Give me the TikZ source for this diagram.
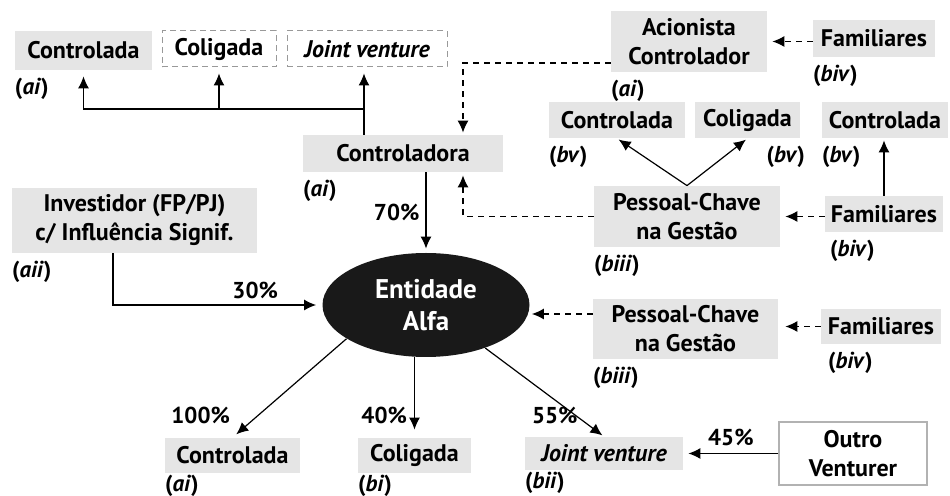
\documentclass[tikz,border=0pt]{standalone}
\usepackage{fontspec}
\setmainfont{PT Sans}
\usetikzlibrary{arrows.meta,shapes.geometric,positioning}

\begin{document}
\begin{tikzpicture}[x=0.5pt, y=-0.5pt,
		caixa/.style   = {rectangle, inner sep=0pt, align=center, minimum height=18pt, font=\fontsize{12}{14.5}\selectfont\bfseries},
		cinza/.style   = {caixa, fill=black!10},
		vazada/.style  = {caixa, draw=black!40, line width=0.5pt, dash pattern=on 3pt off 2pt},
		borda/.style   = {caixa, draw=black!30, line width=0.6pt},
		alfa/.style    = {ellipse, inner sep=0pt, align=center, fill=black!90, text=white, font=\fontsize{13.5}{16}\selectfont\bfseries},
		tag/.style     = {inner sep=0pt, font=\fontsize{11.5}{14}\selectfont\bfseries},
		pct/.style     = {inner sep=0pt, font=\fontsize{11.5}{13}\selectfont\bfseries},
		liga/.style    = {->, line width=0.6pt, shorten >=2.5pt},
		tracejada/.style = {liga, dash pattern=on 3pt off 2.5pt},
		>={Latex[length=6pt,width=5.5pt]}]
		
		\useasboundingbox (0,0) rectangle (950,496);
		
		% Entidade no centro
		\node[alfa, minimum width=103.5pt, minimum height=52pt] (alfa) at (426,305) {Entidade\\Alfa};
		
		% Caixas cinzentas
		\begin{scope}[every node/.style={cinza}]
			\node[minimum width=68.5pt, minimum height=19.5pt] (ctl1) at (83.5,50.5) {Controlada};
			\node[minimum width=100pt, minimum height=18.5pt] (ctra) at (403,153.5) {Controladora};
			\node[minimum width=78pt, minimum height=30.5pt] (acio) at (689,41.5) {Acionista\\Controlador};
			\node[minimum width=61pt, minimum height=18.5pt] (fam1) at (874,38.5) {Familiares};
			
			\node[minimum width=68pt] (ctl2) at (617,120) {Controlada};
			\node[minimum width=52.5pt] (col2) at (747.5,120) {Coligada};
			\node[minimum width=63pt] (ctl3) at (885,120) {Controlada};
			
			\node[minimum width=93pt, minimum height=30.5pt] (pcg1) at (687,216.5) {Pessoal-Chave\\na Gest\~ao};
			\node[minimum width=59pt] (fam2) at (884,214) {Familiares};
			\node[minimum width=122.5pt, minimum height=32.5pt] (inv) at (134.5,220.5) {Investidor (FP/PJ)\\c/ Influ\^encia Signif.};
			
			\node[minimum width=92.5pt, minimum height=30pt] (pcg2) at (685.5,329) {Pessoal-Chave\\na Gest\~ao};
			\node[minimum width=60pt, minimum height=17.5pt] (fam3) at (881,326.5) {Familiares};
			
			\node[minimum width=67.5pt, minimum height=17.5pt] (ctl4) at (232.5,455.5) {Controlada};
			\node[minimum width=56.5pt, minimum height=17.5pt] (col3) at (414.5,455.5) {Coligada};
			\node[minimum width=79pt, minimum height=16.5pt] (jv2) at (604,453.5) {\itshape Joint venture};
		\end{scope}
		
		% Caixas sem fundo
		\node[vazada, minimum width=57pt] (col1) at (219,49) {Coligada};
		\node[vazada, minimum width=80pt] (jv1) at (367,49) {\itshape Joint venture};
		\node[borda, minimum width=74pt, minimum height=31.5pt] (outro) at (853,453.5) {Outro\\Venturer};
		
		% Legendas sob as caixas
		\foreach \no/\txt in {ctl1/ai, ctra/ai, acio/ai, inv/aii, ctl2/bv, ctl3/bv, pcg1/biii, pcg2/biii}
		\node[tag, below right=3.5pt and 0pt of \no.south west] (t\no) {(\textit{\txt})};
		\foreach \no/\txt in {ctl4/ai, col3/bi, jv2/bii}
		\node[tag, below right=0.5pt and 0pt of \no.south west] (t\no) {(\textit{\txt})};
		\node[tag, below left=3.5pt and -2.5pt of col2.south east] (tcol2) {(\textit{bv})};
		\foreach \no/\dx in {fam1/0pt, fam2/2.5pt, fam3/3.5pt}
		\node[tag, below right=3.5pt and \dx of \no.south west] (t\no) {(\textit{biv})};
		
		% Controladora para as suas investidas
		\coordinate (jct) at (364,109);
		\draw[liga, shorten >=3pt] (ctra.north -| jct) -- (jv1.south -| jct);
		\foreach \alvo in {ctl1,col1}
		\draw[liga, shorten >=3pt] (jct) -| (\alvo.south);
		
		% Ligacoes tracejadas para a controladora
		\coordinate (dsc) at (463,63);
		\draw[tracejada, shorten >=1pt] (acio.west |- dsc) -| (ctra.north -| dsc);
		\draw[tracejada, shorten >=1.5pt] (pcg1.west) -| (ctra.south -| dsc);
		
		% Familiares
		\draw[tracejada] (fam1.west |- acio.east) -- (acio.east);
		\draw[tracejada] (fam2.west |- pcg1.east) -- (pcg1.east);
		\draw[tracejada, shorten >=3.5pt] (fam3.west) -- (pcg2.east |- fam3.west);
		\draw[liga, shorten >=1pt] (fam2.north) -- (fam2.north |- ctl3.south);
		
		% Pessoal-chave para controlada e coligada
		\foreach \alvo in {ctl2,col2}
		\draw[liga, shorten >=1pt] (pcg1.north) -- (\alvo.south);
		
		% Participacoes na entidade
		\draw[liga, shorten >=2pt] (ctra.south -| alfa.north) -- node[pct, left=3pt] (p70) {70\%} (alfa.north);
		\coordinate (dobra) at (113,306);
		\draw[liga, shorten >=3pt] (inv.south -| dobra) |- node[pct, pos=0.84, above=3pt] (p30) {30\%} (alfa.west);
		\coordinate (pc2) at (560,314);
		\draw[tracejada, shorten >=1pt] (pcg2.west |- pc2) -- (alfa.east |- pc2);
		
		% Entidade para as suas investidas
		\draw[liga] (alfa.203) -- (ctl4.north) node[pct, anchor=south east, xshift=-1pt, yshift=6.5pt] (p100) {100\%};
		\draw[liga, shorten >=4pt] (alfa.south -| col3.north) -- (col3.north) node[pct, anchor=south east, xshift=-3.5pt, yshift=6.5pt] (p40) {40\%};
		\draw[liga, shorten >=1pt] (alfa.-36) -- (jv2.north) node[pct, anchor=south east, xshift=-13pt, yshift=6pt] (p55) {55\%};
		\draw[liga] (outro.west) -- node[pct, above=3.5pt] (p45) {45\%} (jv2.east |- outro.west);
		
	\end{tikzpicture}
\end{document}
